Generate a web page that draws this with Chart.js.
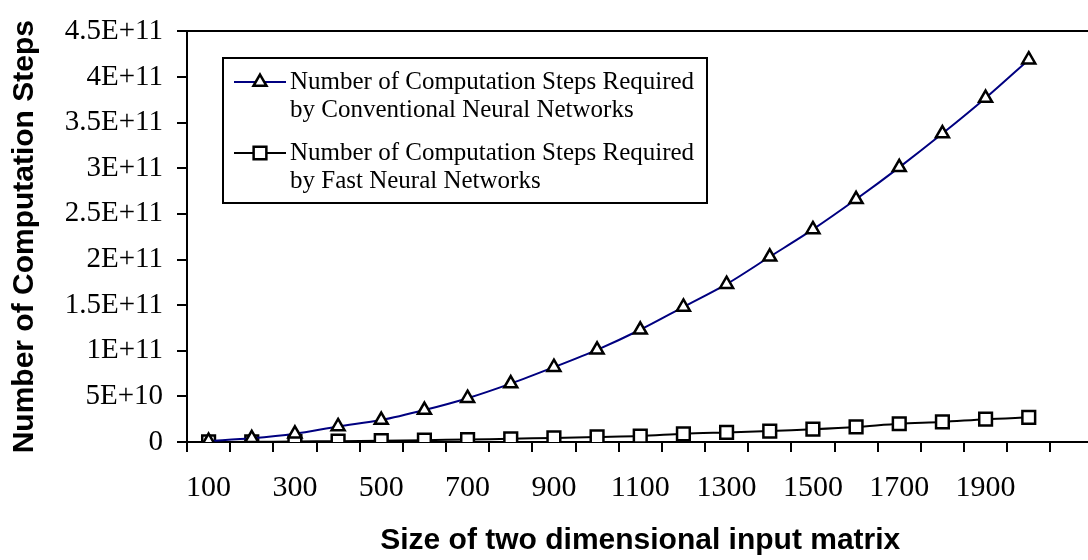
<!DOCTYPE html>
<html>
<head>
<meta charset="utf-8">
<script src="https://cdn.jsdelivr.net/npm/chart.js@4/dist/chart.umd.min.js"></script>
<style>
  html, body { margin: 0; padding: 0; background: #fff; overflow: hidden; }
  /* the plot frame runs past the right edge of the picture */
  #wrap { width: 1088px; height: 560px; overflow: hidden; }
</style>
</head>
<body>
<div id="wrap"><canvas id="stepsChart" width="1105" height="560"></canvas></div>
<script>
  // matrix sizes (n x n)
  var categories = ['100', '200', '300', '400', '500', '600', '700', '800', '900', '1000',
                    '1100', '1200', '1300', '1400', '1500', '1600', '1700', '1800', '1900', '2000'];
  var tickLabels = ['100', '300', '500', '700', '900', '1100', '1300', '1500', '1700', '1900'];

  var conventional = [1.0e9, 4.0e9, 9.0e9, 1.7e10, 2.4e10, 3.5e10, 4.8e10, 6.4e10, 8.2e10, 1.01e11,
                      1.23e11, 1.48e11, 1.73e11, 2.03e11, 2.33e11, 2.66e11, 3.01e11, 3.38e11, 3.77e11, 4.19e11];
  var fast = [5e7, 2e8, 5e8, 9e8, 1.4e9, 2.0e9, 2.7e9, 3.5e9, 4.5e9, 5.5e9,
              6.5e9, 9.0e9, 1.05e10, 1.2e10, 1.4e10, 1.65e10, 2.0e10, 2.2e10, 2.5e10, 2.7e10];

  var conventionalLabel = ['Number of Computation Steps Required', 'by Conventional Neural Networks'];
  var fastLabel = ['Number of Computation Steps Required', 'by Fast Neural Networks'];

  // one empty slot after 2000, the plot runs on past the last point
  var xLabels = categories.concat(['']);

  function drawMarker(ctx, style, x, y, r, bw) {
    ctx.beginPath();
    if (style === 'triangle') {
      var a = 0;
      ctx.moveTo(x + Math.sin(a) * r, y - Math.cos(a) * r);
      a += Math.PI * 2 / 3;
      ctx.lineTo(x + Math.sin(a) * r, y - Math.cos(a) * r);
      a += Math.PI * 2 / 3;
      ctx.lineTo(x + Math.sin(a) * r, y - Math.cos(a) * r);
      ctx.closePath();
    } else {
      var s = r * Math.SQRT1_2;
      ctx.rect(x - s, y - s, s * 2, s * 2);
    }
    ctx.fillStyle = '#fff';
    ctx.fill();
    ctx.lineWidth = bw;
    ctx.strokeStyle = '#000';
    ctx.stroke();
  }

  // framed legend inside the plot, two lines per entry
  var boxLegend = {
    id: 'boxLegend',
    afterDraw: function (chart) {
      var ctx = chart.ctx;
      ctx.save();
      ctx.lineWidth = 2;
      ctx.strokeStyle = '#000';
      ctx.strokeRect(223, 58, 484, 145);
      ctx.font = '25px "Liberation Serif", "Times New Roman", serif';
      ctx.textBaseline = 'middle';
      ctx.textAlign = 'left';
      chart.data.datasets.forEach(function (ds, i) {
        var y = 82 + i * 71;
        ctx.beginPath();
        ctx.moveTo(234, y);
        ctx.lineTo(286, y);
        ctx.lineWidth = 2;
        ctx.strokeStyle = ds.borderColor;
        ctx.stroke();
        drawMarker(ctx, ds.pointStyle, 260, y, ds.pointRadius, ds.pointBorderWidth);
        ctx.fillStyle = '#000';
        ds.label.forEach(function (line, j) {
          ctx.fillText(line, 290, y + j * 28);
        });
      });
      ctx.restore();
    }
  };

  var serif = { family: '"Liberation Serif", "Times New Roman", serif', size: 30 };
  var boldSans = { family: '"Liberation Sans", Arial, sans-serif', size: 30, weight: 'bold' };

  var ctx = document.getElementById('stepsChart').getContext('2d');
  var stepsChart = new Chart(ctx, {
    type: 'line',
    data: {
      labels: xLabels,
      datasets: [{
        label: conventionalLabel,
        data: conventional,
        borderColor: '#000080',
        borderWidth: 2,
        tension: 0.3,
        pointStyle: 'triangle',
        pointRadius: 7.5,
        pointBorderColor: '#000',
        pointBackgroundColor: '#fff',
        pointBorderWidth: 2.5
      }, {
        label: fastLabel,
        data: fast,
        borderColor: '#000',
        borderWidth: 2,
        tension: 0.3,
        pointStyle: 'rect',
        pointRadius: 9,
        pointBorderColor: '#000',
        pointBackgroundColor: '#fff',
        pointBorderWidth: 2.5
      }]
    },
    options: {
      responsive: false,
      animation: false,
      events: [],
      layout: { padding: 0 },
      plugins: {
        legend: { display: false },
        tooltip: { enabled: false }
      },
      scales: {
        x: {
          type: 'category',
          offset: true,
          grid: { offset: true, drawOnChartArea: false, drawTicks: true, tickLength: 10, color: '#000', lineWidth: 2 },
          border: { display: true, color: '#000', width: 2 },
          ticks: {
            autoSkip: false,
            maxRotation: 0,
            padding: 18,
            color: '#000',
            font: serif,
            callback: function (value) {
              var lab = this.getLabelForValue(value);
              return tickLabels.indexOf(lab) >= 0 ? lab : '';
            }
          },
          title: {
            display: true,
            text: 'Size of two dimensional input matrix',
            color: '#000',
            font: boldSans,
            padding: { top: 1, bottom: 1 }
          },
          afterFit: function (scale) { scale.height = 118; }
        },
        x2: {
          type: 'category',
          position: 'top',
          labels: xLabels,
          grid: { display: false },
          border: { display: true, color: '#000', width: 2 },
          ticks: { display: false },
          afterFit: function (scale) { scale.height = 29; }
        },
        y: {
          min: 0,
          max: 4.5e11,
          grid: { drawOnChartArea: false, drawTicks: true, tickLength: 10, color: '#000', lineWidth: 2 },
          border: { display: true, color: '#000', width: 2 },
          ticks: {
            stepSize: 5e10,
            padding: 14,
            color: '#000',
            font: { family: '"Liberation Serif", "Times New Roman", serif', size: 29 },
            callback: function (v) {
              if (v === 0) return '0';
              return v.toExponential().toUpperCase();
            }
          },
          title: {
            display: true,
            text: 'Number of Computation Steps',
            color: '#000',
            font: boldSans,
            padding: 7
          },
          afterFit: function (scale) { scale.width = 187; }
        }
      }
    },
    plugins: [boxLegend]
  });
</script>
</body>
</html>
